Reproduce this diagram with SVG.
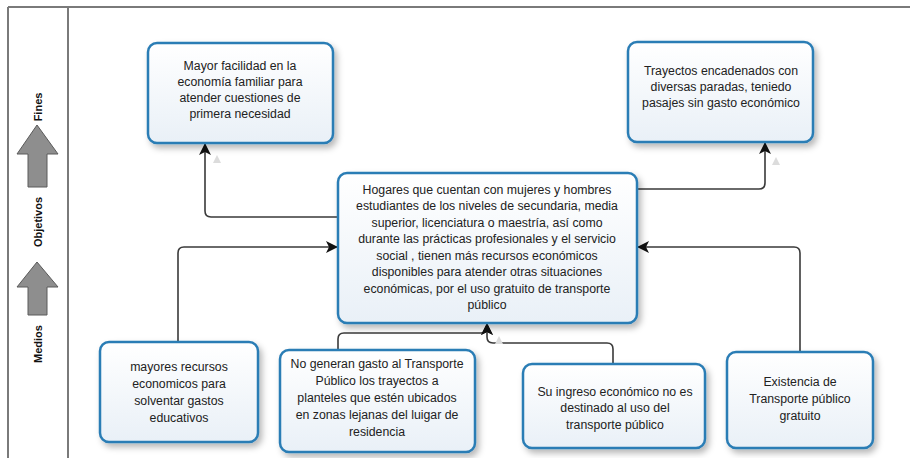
<svg xmlns="http://www.w3.org/2000/svg" width="910" height="458" viewBox="0 0 910 458">
<defs>
<linearGradient id="boxFill" x1="0" y1="0" x2="0" y2="1">
<stop offset="0" stop-color="#ffffff"/>
<stop offset="1" stop-color="#e9f0f7"/>
</linearGradient>
<filter id="shadow" x="-10%" y="-10%" width="125%" height="130%">
<feDropShadow dx="3" dy="4" stdDeviation="3" flood-color="#000" flood-opacity="0.28"/>
</filter>
<marker id="arrow" markerUnits="userSpaceOnUse" markerWidth="14" markerHeight="14" refX="11" refY="6" orient="auto">
<path d="M0,0 L12,6 L0,12 L3,6 Z" fill="#111"/>
</marker>
</defs>
<style>
.frame{stroke:#7a7a7a;stroke-width:2;fill:none}
.bigarrow{fill:#8e8e8e;stroke:#5a5a5a;stroke-width:1}
.side{font-family:"Liberation Sans",Arial,sans-serif;font-weight:bold;font-size:11px;fill:#111;text-anchor:middle}
.box{fill:url(#boxFill);stroke:#2b7db5;stroke-width:2.5;filter:url(#shadow)}
.t{font-family:"Liberation Sans",Arial,sans-serif;font-size:12.3px;fill:#222;text-anchor:middle}
.conn{fill:none;stroke:#3a3a3a;stroke-width:1.6}
.ghost{fill:#dcdcdc}
</style>

<g id="frame">
<line class="frame" x1="8" y1="7" x2="910" y2="7"/>
<line class="frame" x1="8" y1="7" x2="8" y2="458"/>
<line class="frame" x1="68" y1="7" x2="68" y2="458"/>
</g>

<g id="side-labels">
<path class="bigarrow" d="M37,125 L58,154 L47,154 L47,187 L28,187 L28,154 L17,154 Z"/>
<path class="bigarrow" d="M37,262 L58,287 L47,287 L47,315 L28,315 L28,287 L17,287 Z"/>
<text class="side" transform="translate(42,107) rotate(-90)">Fines</text>
<text class="side" transform="translate(42,222) rotate(-90)">Objetivos</text>
<text class="side" transform="translate(42,344) rotate(-90)">Medios</text>
</g>

<g id="connectors">
<path class="conn" d="M338,217 H211 Q205,217 205,211 V144" marker-end="url(#arrow)"/>
<path class="conn" d="M637,189 H759 Q765,189 765,183 V143" marker-end="url(#arrow)"/>
<path class="conn" d="M178,342 V253 Q178,247 184,247 H337" marker-end="url(#arrow)"/>
<path class="conn" d="M800,352 V253 Q800,247 794,247 H638" marker-end="url(#arrow)"/>
<path class="conn" d="M338,350 V339 Q338,333 344,333 H481 Q487,333 487,327 V324" marker-end="url(#arrow)"/>
<path class="conn" d="M613,363 V349 Q613,343 607,343 H493 Q487,343 487,337 V324" marker-end="url(#arrow)"/>
<path class="ghost" d="M217,155 L221,163 L213,163 Z"/>
<path class="ghost" d="M776,157 L780,165 L772,165 Z"/>
<path class="ghost" d="M499,336 L503,344 L495,344 Z"/>
</g>

<g id="fin1">
<rect class="box" x="148" y="43" width="185" height="100" rx="9"/>
<text class="t" x="240" y="70">Mayor facilidad en la</text>
<text class="t" x="240" y="86">economía familiar para</text>
<text class="t" x="240" y="102">atender cuestiones de</text>
<text class="t" x="240" y="118">primera necesidad</text>
</g>

<g id="fin2">
<rect class="box" x="628" y="42" width="185" height="100" rx="9"/>
<text class="t" x="721" y="75">Trayectos encadenados con</text>
<text class="t" x="721" y="91">diversas paradas, teniedo</text>
<text class="t" x="721" y="107">pasajes sin gasto económico</text>
</g>

<g id="objetivo">
<rect class="box" x="338" y="173" width="299" height="150" rx="9"/>
<text class="t" x="487" y="193.5">Hogares que cuentan con mujeres y hombres</text>
<text class="t" x="487" y="210">estudiantes de los niveles de secundaria, media</text>
<text class="t" x="487" y="226.5">superior, licenciatura o maestría,  así como</text>
<text class="t" x="487" y="243">durante las prácticas profesionales y el servicio</text>
<text class="t" x="487" y="259.5">social , tienen más recursos económicos</text>
<text class="t" x="487" y="276">disponibles para atender otras situaciones</text>
<text class="t" x="487" y="292.5">económicas, por el uso gratuito de transporte</text>
<text class="t" x="487" y="309">público</text>
</g>

<g id="medio1">
<rect class="box" x="100" y="342" width="158" height="100" rx="9"/>
<text class="t" x="179" y="371">mayores recursos</text>
<text class="t" x="179" y="388">economicos para</text>
<text class="t" x="179" y="405">solventar gastos</text>
<text class="t" x="179" y="422">educativos</text>
</g>

<g id="medio2">
<rect class="box" x="280" y="350" width="195" height="102" rx="9"/>
<text class="t" x="377" y="367.5">No generan gasto al Transporte</text>
<text class="t" x="377" y="384.5">Público los trayectos a</text>
<text class="t" x="377" y="401.5">planteles que estén ubicados</text>
<text class="t" x="377" y="418.5">en zonas lejanas del luigar de</text>
<text class="t" x="377" y="435.5">residencia</text>
</g>

<g id="medio3">
<rect class="box" x="523" y="364" width="182" height="84" rx="9"/>
<text class="t" x="615" y="395.5">Su ingreso económico no es</text>
<text class="t" x="615" y="412">destinado al uso del</text>
<text class="t" x="615" y="428.5">transporte público</text>
</g>

<g id="medio4">
<rect class="box" x="727" y="352" width="146" height="96" rx="9"/>
<text class="t" x="800" y="385.5">Existencia de</text>
<text class="t" x="800" y="402.5">Transporte público</text>
<text class="t" x="800" y="419.5">gratuito</text>
</g>
</svg>
